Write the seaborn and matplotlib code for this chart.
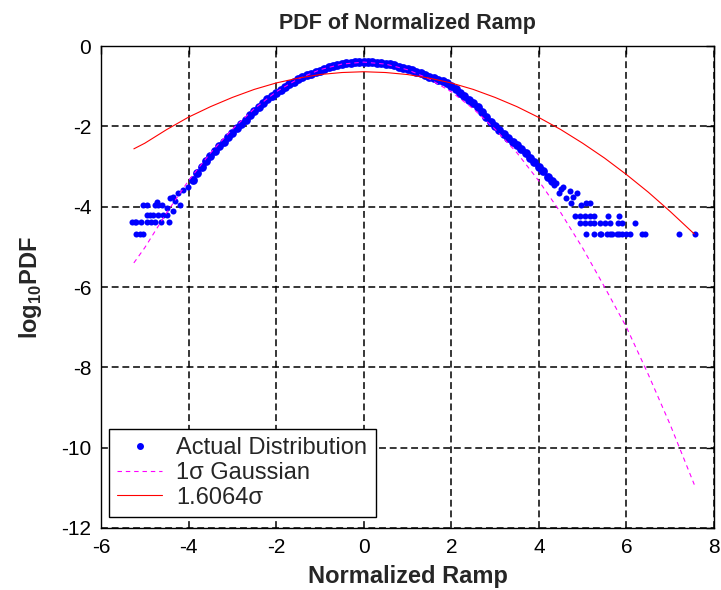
import matplotlib
matplotlib.use("Agg")
import matplotlib.pyplot as plt
from matplotlib.lines import Line2D
import numpy as np
import pandas as pd
import seaborn as sns

# ---------------- data ----------------
# dense central band of the measured distribution
band_x = [-3.9, -3.8, -3.7, -3.6, -3.5, -3.4, -3.3, -3.2, -3.1, -3.0,
          -2.9, -2.8, -2.7, -2.6, -2.5, -2.4, -2.3, -2.2, -2.1, -2.0,
          -1.9, -1.8, -1.7, -1.6, -1.5, -1.4, -1.3, -1.2, -1.1, -1.0,
          -0.9, -0.8, -0.7, -0.6, -0.5, -0.4, -0.3, -0.2, -0.1, 0.0,
          0.1, 0.2, 0.3, 0.4, 0.5, 0.6, 0.7, 0.8, 0.9, 1.0,
          1.1, 1.2, 1.3, 1.4, 1.5, 1.6, 1.7, 1.8, 1.9, 2.0,
          2.1, 2.2, 2.3, 2.4, 2.5, 2.6, 2.7, 2.8, 2.9, 3.0,
          3.1, 3.2, 3.3, 3.4, 3.5, 3.6, 3.7, 3.8, 3.9, 4.0,
          4.1, 4.2, 4.3]
band_y = [-3.33, -3.17, -3.02, -2.87, -2.74, -2.62, -2.50, -2.38, -2.27, -2.16,
          -2.05, -1.94, -1.83, -1.72, -1.62, -1.52, -1.42, -1.33, -1.25, -1.17,
          -1.09, -1.02, -0.95, -0.89, -0.83, -0.78, -0.73, -0.69, -0.65, -0.61,
          -0.57, -0.53, -0.50, -0.47, -0.45, -0.43, -0.42, -0.41, -0.40, -0.40,
          -0.40, -0.41, -0.42, -0.43, -0.44, -0.46, -0.48, -0.51, -0.54, -0.57,
          -0.60, -0.64, -0.68, -0.72, -0.76, -0.80, -0.84, -0.88, -0.93, -0.99,
          -1.07, -1.16, -1.25, -1.34, -1.43, -1.53, -1.64, -1.76, -1.88, -2.00,
          -2.10, -2.20, -2.30, -2.39, -2.47, -2.56, -2.66, -2.78, -2.89, -3.00,
          -3.12, -3.25, -3.37]

# sparse tails of the measured distribution
tail_x = [-4.01, -4.12, -4.24, -4.35, -4.43, -4.50, -4.20, -4.35, -4.30,
          -5.05, -4.95, -4.77, -4.70, -4.61, -4.72,
          -4.96, -4.89, -4.82, -4.70, -4.59, -4.50,
          -5.30, -5.23, -5.19, -5.08, -4.96, -4.85, -4.77, -4.62, -4.45,
          -5.19, -5.11, -5.04,
          4.35, 4.40, 4.47, 4.50, 4.55, 4.63, 4.70, 4.74, 4.78, 4.86, 4.97, 5.08, 5.16,
          4.82, 4.93, 5.05, 5.16, 5.27, 5.57, 5.84,
          4.93, 5.05, 5.16, 5.27, 5.39, 5.50, 5.62, 5.80, 5.89, 6.19,
          5.07, 5.27, 5.39, 5.43, 5.55, 5.62, 5.68, 5.78, 5.84, 5.89, 6.00, 6.07,
          6.35, 6.42, 7.21, 7.56]
tail_y = [-3.50, -3.58, -3.66, -3.75, -3.79, -4.04, -3.96, -4.12, -3.85,
          -3.96, -3.96, -3.96, -3.96, -3.96, -3.88,
          -4.20, -4.20, -4.20, -4.20, -4.20, -4.20,
          -4.38, -4.38, -4.38, -4.38, -4.38, -4.38, -4.38, -4.38, -4.38,
          -4.68, -4.68, -4.68,
          -3.45, -3.42, -3.66, -3.55, -3.50, -3.79, -3.62, -3.91, -3.75, -3.66, -3.96, -3.91, -3.91,
          -4.22, -4.22, -4.22, -4.22, -4.22, -4.22, -4.22,
          -4.40, -4.40, -4.40, -4.40, -4.40, -4.40, -4.40, -4.40, -4.40, -4.40,
          -4.68, -4.68, -4.68, -4.68, -4.68, -4.68, -4.68, -4.68, -4.68, -4.68, -4.68, -4.68,
          -4.68, -4.68, -4.68, -4.68]

# 1 sigma Gaussian fit (magenta dashed)
gauss_x = [-5.25, -5.0, -4.5, -4.0, -3.5, -3.0, -2.5, -2.0, -1.5, -1.0, -0.5, 0.0,
           0.5, 1.0, 1.5, 2.0, 2.5, 3.0, 3.5, 4.0, 4.5, 5.0, 5.5, 6.0, 6.5, 7.0, 7.55]
gauss_y = [-5.40, -5.02, -4.15, -3.35, -2.66, -2.07, -1.56, -1.14, -0.82, -0.59, -0.45, -0.40,
           -0.45, -0.59, -0.82, -1.14, -1.56, -2.07, -2.66, -3.36, -4.15, -5.03, -6.00, -7.00,
           -8.18, -9.43, -10.92]

# 1.6064 sigma fit (red solid)
wide_x = [-5.25, -5.0, -4.5, -4.0, -3.5, -3.0, -2.5, -2.0, -1.5, -1.0, -0.5, 0.0,
          0.5, 1.0, 1.5, 2.0, 2.5, 3.0, 3.5, 4.0, 4.5, 5.0, 5.5, 6.0, 6.5, 7.0, 7.55]
wide_y = [-2.56, -2.42, -2.08, -1.77, -1.51, -1.28, -1.08, -0.92, -0.80, -0.71, -0.66, -0.64,
          -0.66, -0.71, -0.80, -0.92, -1.08, -1.28, -1.51, -1.78, -2.08, -2.42, -2.79, -3.20,
          -3.64, -4.12, -4.68]

x_ticks = [-6, -4, -2, 0, 2, 4, 6, 8]
y_ticks = [-12, -10, -8, -6, -4, -2, 0]

title = "PDF of Normalized Ramp"
x_label = "Normalized Ramp"
y_label = r"log$_{\mathbf{10}}$PDF"
legend_labels = ["Actual Distribution", "1\u03c3 Gaussian", "1.6064\u03c3"]

# ---------------- style ----------------
sns.set_style("white")
plt.rcParams["font.family"] = ["Liberation Sans", "DejaVu Sans"]
plt.rcParams["mathtext.fontset"] = "custom"
plt.rcParams["mathtext.rm"] = "Liberation Sans"
plt.rcParams["mathtext.bf"] = "Liberation Sans:bold"
plt.rcParams["axes.unicode_minus"] = False

BLUE = "#0000ff"
MAGENTA = "#ff00ff"
RED = "#ff0000"

fig = plt.figure(figsize=(7.21, 5.90), dpi=100)
fig.patch.set_facecolor("white")
ax = fig.add_axes([0.1401, 0.1051, 0.8502, 0.8169])

band = pd.DataFrame({"x": band_x, "y": band_y})
tail = pd.DataFrame({"x": tail_x, "y": tail_y})
gauss = pd.DataFrame({"x": gauss_x, "y": gauss_y})
wide = pd.DataFrame({"x": wide_x, "y": wide_y})

sns.scatterplot(data=band, x="x", y="y", ax=ax, color=BLUE, s=40, linewidth=0, zorder=3)
sns.scatterplot(data=tail, x="x", y="y", ax=ax, color=BLUE, s=19, linewidth=0, zorder=3)
sns.lineplot(data=gauss, x="x", y="y", ax=ax, color=MAGENTA, lw=0.8,
             linestyle=(0, (4, 3.5)), estimator=None, sort=True, zorder=4)
sns.lineplot(data=wide, x="x", y="y", ax=ax, color=RED, lw=0.8,
             estimator=None, sort=True, zorder=5)

ax.set_xlim(-6, 8)
ax.set_ylim(-12, 0)
ax.set_xticks(x_ticks)
ax.set_yticks(y_ticks)
ax.set_xticklabels([str(t) for t in x_ticks])
ax.set_yticklabels([str(t) for t in y_ticks])
ax.tick_params(direction="in", top=True, right=True, length=6, width=1,
               labelsize=15, pad=7, colors="black")
ax.grid(True, color="black", linestyle=(0, (4.5, 2.5)), linewidth=1.1)
ax.set_axisbelow(True)
for sp in ax.spines.values():
    sp.set_color("black")
    sp.set_linewidth(1.0)

ax.set_title(title, fontsize=15.5, fontweight="bold", pad=12)
ax.set_xlabel(x_label, fontsize=17, fontweight="bold", labelpad=6)
ax.set_ylabel(y_label, fontsize=17, fontweight="bold", labelpad=12)

handles = [
    Line2D([], [], color=BLUE, marker="o", markersize=4, linestyle="none"),
    Line2D([], [], color=MAGENTA, lw=0.8, linestyle=(0, (4, 3.5))),
    Line2D([], [], color=RED, lw=0.8),
]
leg = ax.legend(handles, legend_labels, loc="lower left",
                bbox_to_anchor=(0.013, 0.023), borderaxespad=0, fontsize=17,
                frameon=True, fancybox=False, framealpha=1, edgecolor="black",
                handlelength=1.9, handletextpad=0.6, labelspacing=0.12,
                borderpad=0.35, numpoints=1)
leg.get_frame().set_linewidth(1.0)

fig.savefig("out.png", dpi=100, facecolor="white")
